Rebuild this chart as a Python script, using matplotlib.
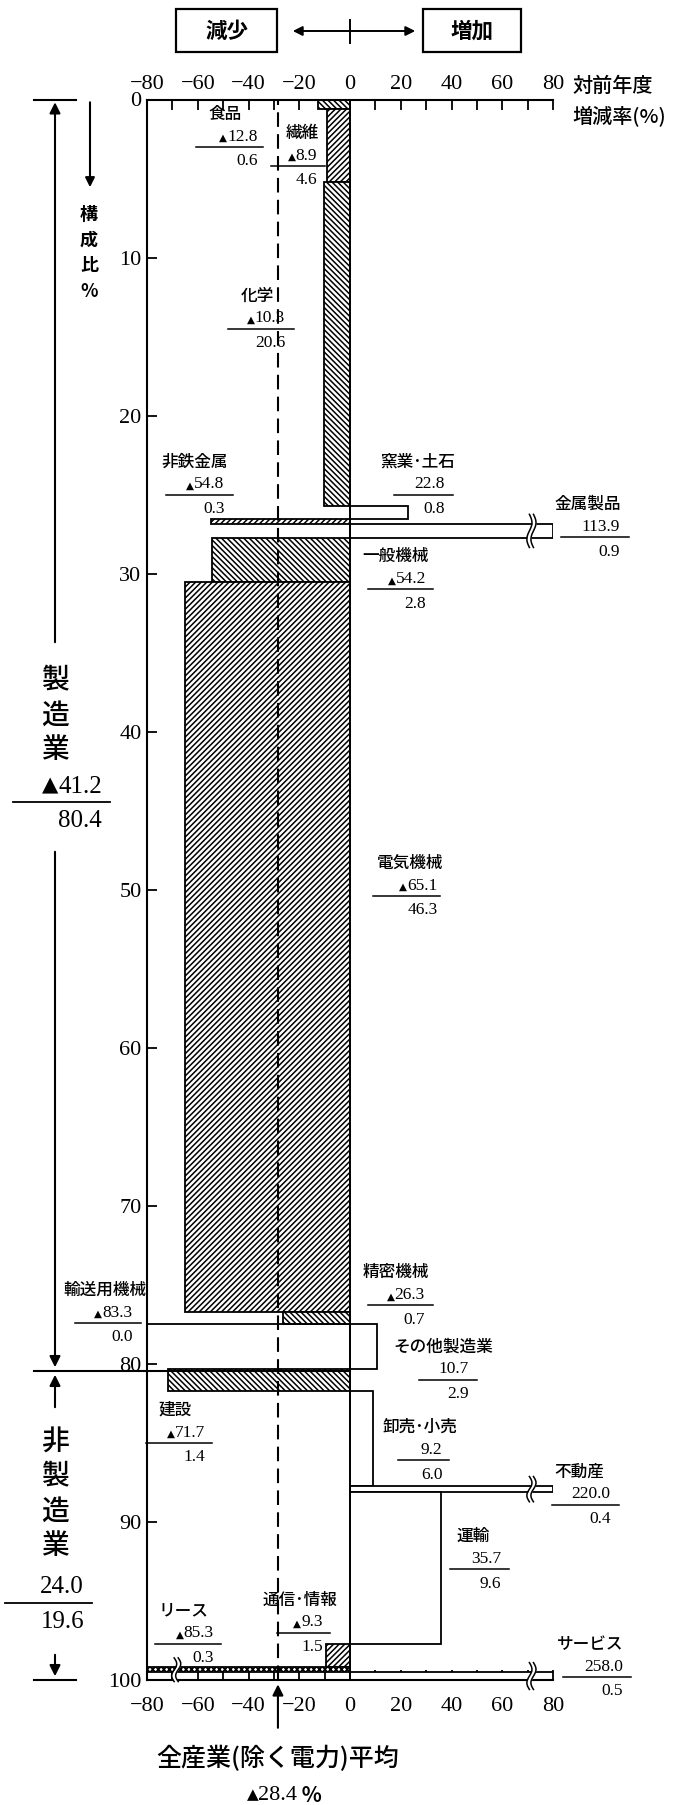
import numpy as np
import matplotlib.pyplot as plt
from matplotlib.patches import Rectangle

JP = ['Noto Sans CJK JP', 'DejaVu Sans']
NUM = ['Liberation Serif', 'DejaVu Sans']

# データ（構成比と対前年度増減率）
names = ['食品', '繊維', '化学', '窯業･土石', '非鉄金属', '金属製品', '一般機械', '電気機械',
         '精密機械', '輸送用機械', 'その他製造業', '建設', '卸売･小売', '不動産', '運輸',
         '通信･情報', 'リース', 'サービス']
rates = [-12.8, -8.9, -10.3, 22.8, -54.8, 113.9, -54.2, -65.1, -26.3, -83.3, 10.7,
         -71.7, 9.2, 220.0, 35.7, -9.3, -85.3, 258.0]
shares = [0.6, 4.6, 20.6, 0.8, 0.3, 0.9, 2.8, 46.3, 0.7, 0.0, 2.9,
          1.4, 6.0, 0.4, 9.6, 1.5, 0.3, 0.5]
mfg_rate, mfg_share = -41.2, 80.4
non_rate, non_share = 24.0, 19.6
avg_rate = -28.4

# ハッチ（スタイル）
BK = '\\' * 6
FW = '/' * 6
hatches = [BK, FW, BK, '', FW, '', BK, FW, BK, '', '', BK, '', '', '', FW, 'xxxxxx', '']

# ラベル位置 (名前x中心, 名前y, 数値右端x, 下線x0, 下線x1)
label_pos = [(-49.4, 0.9, -36.5, -60.8, -34.1), (-18.8, 2.1, -13.0, -31.3, -9.8),
             (-36.4, 12.4, -25.6, -48.0, -22.0), (26.7, 22.9, 37.2, 17.5, 40.5),
             (-61.2, 22.9, -49.5, -72.4, -46.3), (93.7, 25.6, 106.4, 83.1, 109.8),
             (17.9, 28.9, 29.9, 7.1, 32.6), (23.8, 48.3, 34.5, 9.0, 35.4),
             (18.0, 74.2, 29.5, 6.9, 32.9), (-96.5, 75.3, -85.7, -108.5, -82.3),
             (36.7, 78.9, 46.7, 27.3, 50.1), (-68.9, 82.9, -57.1, -80.2, -54.2),
             (27.6, 84.0, 36.4, 18.9, 39.0), (90.2, 86.8, 102.7, 79.6, 105.9),
             (48.6, 90.9, 59.6, 39.5, 62.5), (-19.6, 94.9, -10.8, -28.8, -7.8),
             (-65.7, 95.6, -53.6, -76.8, -50.7), (94.7, 97.7, 107.6, 84.1, 110.7)]
break_x = {5: 71.5, 13: 71.5, 17: 71.5, 16: -68.5}

plt.rcParams['hatch.linewidth'] = 1.1

fig = plt.figure(figsize=(6.86, 18.05), dpi=100)
ax = fig.add_axes([147 / 686, 1 - 1680 / 1805, 406 / 686, 1580.5 / 1805])
ax.set_xlim(-80, 80)
ax.set_ylim(100, 0)

sh = np.array(shares)
cum = np.concatenate([[0], np.cumsum(sh)])
scale = 100 / cum[-1]
tops = cum[:-1] * scale
heights = sh * scale
widths = np.clip(rates, -80, 80)

bars = ax.barh(tops, widths, height=heights, left=0, align='edge', color='white',
               edgecolor='black', linewidth=1.3, zorder=2)
for b, h in zip(bars, hatches):
    b.set_hatch(h)

ax.axvline(0, color='black', lw=1.3, zorder=3)
ax.axvline(avg_rate, color='black', lw=1.5, ls=(0, (7, 3.5)), zorder=3)


def brk(x, y0, y1):
    yy = np.linspace(y0 - 0.6, y1 + 0.6, 40)
    t = (yy - yy[0]) / (yy[-1] - yy[0])
    off = 1.0 * np.sin(2 * np.pi * t)
    xa = x - 0.8 + off
    xb = x + 0.8 + off
    ax.fill_betweenx(yy, xa, xb, color='white', zorder=4, clip_on=False, lw=0)
    ax.plot(xa, yy, color='black', lw=1.1, zorder=5, clip_on=False)
    ax.plot(xb, yy, color='black', lw=1.1, zorder=5, clip_on=False)


for i, x in break_x.items():
    brk(x, tops[i], tops[i] + heights[i])


def val_text(axis, x, y, v, size, ha='right', tri=0.6):
    t = axis.text(x, y, f'{abs(v):.1f}', ha=ha, va='center', fontsize=size,
                  family=NUM, clip_on=False, zorder=6)
    if v < 0:
        axis.annotate('▲', xy=(0, 0.1), xycoords=t, ha='right', va='bottom',
                      fontsize=size * tri, family=['DejaVu Sans'])
    return t


for i, (nx, ny, vx, lx0, lx1) in enumerate(label_pos):
    ax.text(nx, ny, names[i], ha='center', va='center', fontsize=12, family=JP,
            fontweight='medium', clip_on=False, zorder=6)
    val_text(ax, vx, ny + 1.45, rates[i], 12.5)
    ax.plot([lx0, lx1], [ny + 2.1, ny + 2.1], color='black', lw=1.1, clip_on=False)
    val_text(ax, vx, ny + 3.0, shares[i], 12.5)

# 軸
ax.spines['right'].set_visible(False)
for s in ['top', 'bottom', 'left']:
    ax.spines[s].set_linewidth(1.5)

xt = np.arange(-80, 81, 20)
xlab = [str(v).replace('-', '−') for v in xt]
ax.set_xticks(xt)
ax.set_xticks(np.arange(-80, 81, 10), minor=True)
ax.set_xticklabels(xlab, fontsize=16, family=NUM)
ax.tick_params(axis='x', which='both', direction='in', bottom=True, top=True,
               labelbottom=True, labeltop=False, length=7, width=1.3, pad=12)
sec = ax.secondary_xaxis('top')
sec.set_xticks(xt)
sec.set_xticklabels(xlab, fontsize=16, family=NUM)
sec.tick_params(direction='in', length=0, pad=4)
sec.spines['top'].set_visible(False)

ax.set_yticks(np.arange(0, 101, 10))
ax.set_yticklabels([str(v) for v in range(0, 101, 10)], fontsize=16, family=NUM)
ax.tick_params(axis='y', direction='in', length=7, width=1.3, pad=4)

# 全産業平均
ax.annotate('', xy=(avg_rate, 100.1), xytext=(avg_rate, 103.2), annotation_clip=False,
            arrowprops=dict(arrowstyle='-|>', color='black', lw=1.5, mutation_scale=16))
ax.text(-28.4, 105.0, '全産業(除く電力)平均', ha='center', va='center', fontsize=18,
        family=JP, fontweight='medium', clip_on=False)
t_avg = ax.text(-28.4, 107.3, f'{abs(avg_rate):.1f}', ha='center', va='center',
                fontsize=16, family=NUM, clip_on=False)
ax.annotate('▲', xy=(0, 0.12), xycoords=t_avg, ha='right', va='bottom', fontsize=11,
            family=['DejaVu Sans'])
ax.annotate(' %', xy=(1, 0.5), xycoords=t_avg, ha='left', va='center', fontsize=15,
            family=JP, fontweight='bold')

# 外側の注記（ピクセル座標）
ov = fig.add_axes([0, 0, 1, 1])
ov.set_xlim(0, 686)
ov.set_ylim(1805, 0)
ov.axis('off')

for bx, w, txt in [(176, 101, '減少'), (423, 98, '増加')]:
    ov.add_patch(Rectangle((bx, 9), w, 43, fill=False, lw=1.6, edgecolor='black'))
    ov.text(bx + w / 2, 31, txt, ha='center', va='center', fontsize=15.5, family=JP,
            fontweight='bold')
ov.annotate('', xy=(418, 31), xytext=(290, 31),
            arrowprops=dict(arrowstyle='<|-|>', color='black', lw=1.4, mutation_scale=14))
ov.plot([350, 350], [20, 43], color='black', lw=1.4)

ov.text(572, 86, '対前年度', ha='left', va='center', fontsize=14.5, family=JP,
        fontweight='medium')
ov.text(572, 116, '増減率(%)', ha='left', va='center', fontsize=14.5, family=JP,
        fontweight='medium')

# 左側：製造業
ov.plot([34, 76], [99.5, 99.5], color='black', lw=1.5)
ov.plot([34, 76], [1680, 1680], color='black', lw=1.5)
ov.plot([34, 350], [1371, 1371], color='black', lw=1.5)
ov.annotate('', xy=(55, 99.5), xytext=(55, 645),
            arrowprops=dict(arrowstyle='-|>', color='black', lw=1.5, mutation_scale=16))
ov.annotate('', xy=(55, 1370), xytext=(55, 849),
            arrowprops=dict(arrowstyle='-|>', color='black', lw=1.5, mutation_scale=16))
for k, ch in enumerate('製造業'):
    ov.text(55, 680 + 35 * k, ch, ha='center', va='center', fontsize=20, family=JP,
            fontweight='medium')
val_text(ov, 102, 787, mfg_rate, 18, tri=0.85)
ov.plot([13, 110], [802, 802], color='black', lw=1.3)
val_text(ov, 102, 821, mfg_share, 18)

# 非製造業
ov.annotate('', xy=(55, 1372), xytext=(55, 1410),
            arrowprops=dict(arrowstyle='-|>', color='black', lw=1.5, mutation_scale=16))
for k, ch in enumerate('非製造業'):
    ov.text(55, 1441 + 35 * k, ch, ha='center', va='center', fontsize=20, family=JP,
            fontweight='medium')
val_text(ov, 84, 1587, non_rate, 18)
ov.plot([5, 92], [1603, 1603], color='black', lw=1.3)
val_text(ov, 84, 1622, non_share, 18)
ov.annotate('', xy=(55, 1679), xytext=(55, 1652),
            arrowprops=dict(arrowstyle='-|>', color='black', lw=1.5, mutation_scale=16))

# 構成比%
ov.annotate('', xy=(90, 190), xytext=(90, 99.5),
            arrowprops=dict(arrowstyle='-|>', color='black', lw=1.5, mutation_scale=14))
for k, ch in enumerate(['構', '成', '比', '%']):
    ov.text(89, 215 + 25.5 * k, ch, ha='center', va='center', fontsize=13, family=JP,
            fontweight='bold')

fig.savefig('out.png', dpi=100)
